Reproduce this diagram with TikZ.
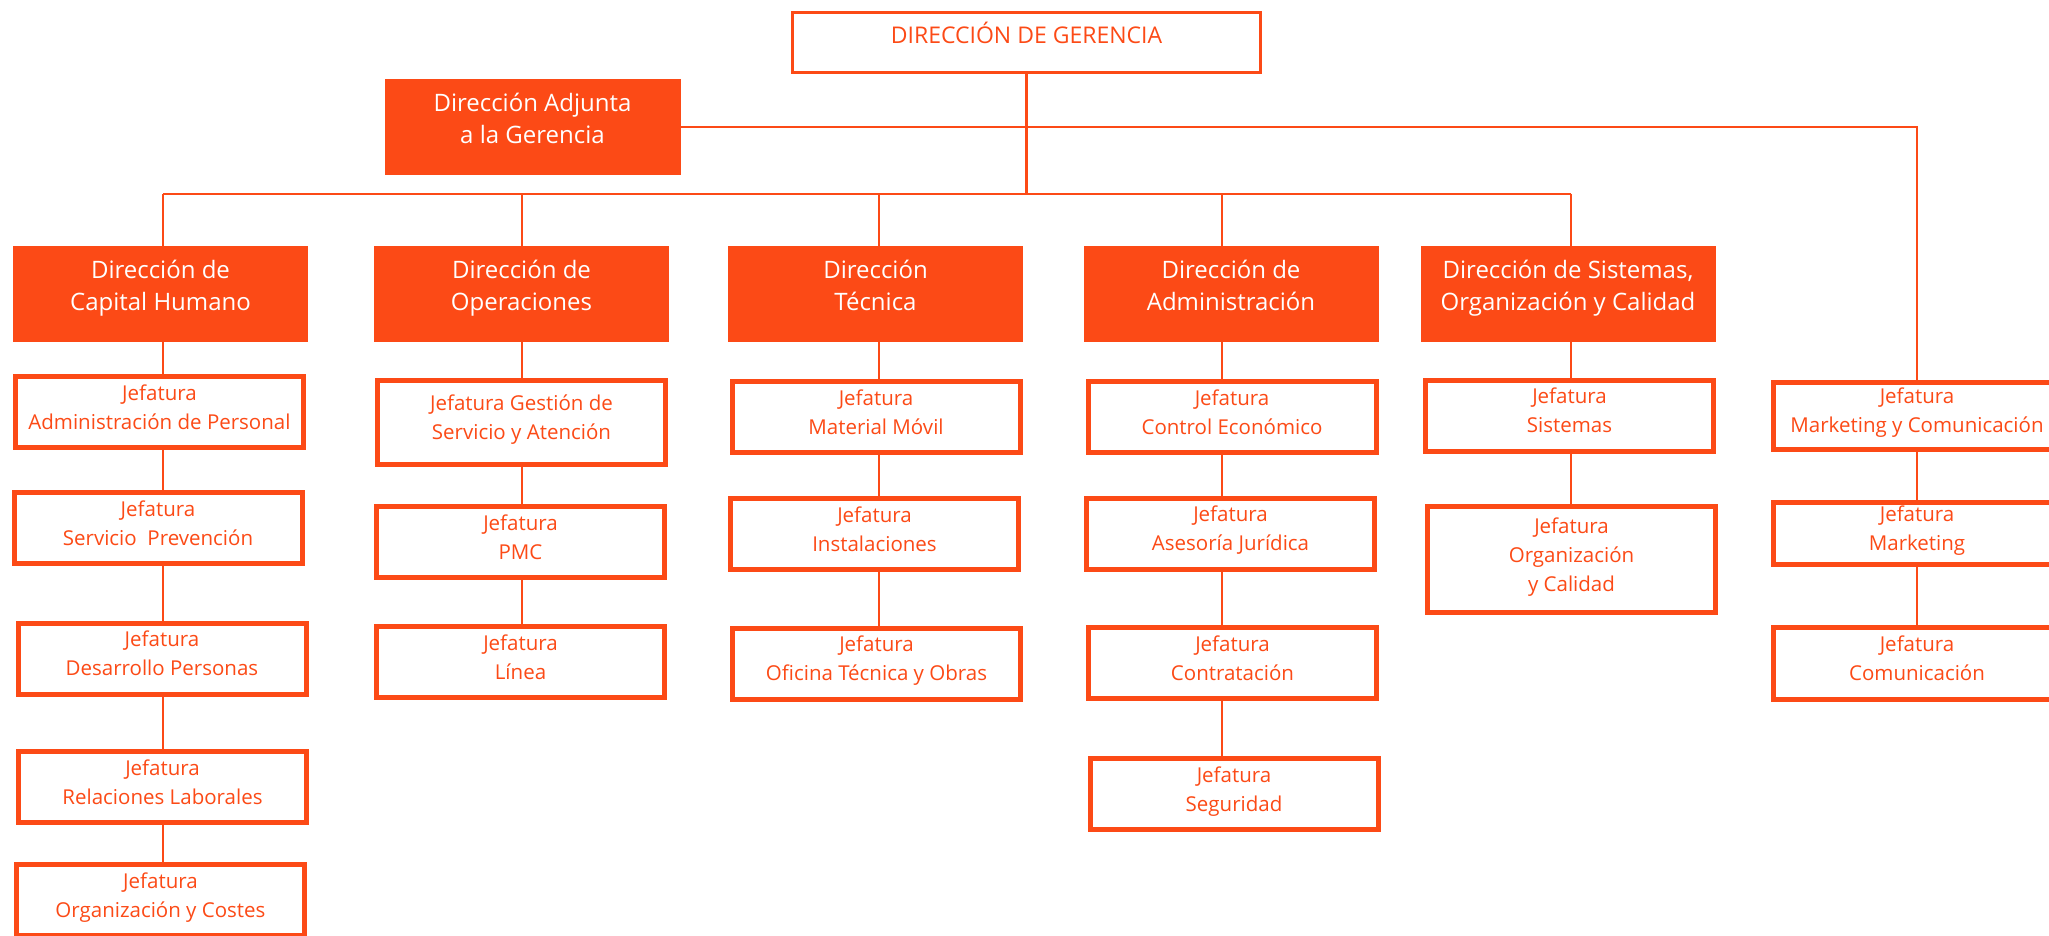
\documentclass[tikz,border=0pt]{standalone}
\usepackage{fontspec}
\setmainfont{Open Sans}
\usetikzlibrary{positioning}
\definecolor{naranja}{RGB}{252,74,22}
\tikzset{
gerbox/.style={
  draw=naranja,
  line width=2.6pt,
  text=naranja,
  minimum width=468pt,
  minimum height=60pt,
  inner sep=0pt,
  font=\fontsize{23}{28}\selectfont,
  text height=19pt,
  text depth=16pt
  },
dirbox/.style={
  fill=naranja,
  text=white,
  minimum width=295pt,
  minimum height=96pt,
  inner sep=0pt,
  align=center,
  font=\fontsize{24}{32}\selectfont,
  text depth=17pt
  },
jefbox/.style={
  draw=naranja,
  line width=5pt,
  fill=white,
  text=naranja,
  minimum width=288pt,
  minimum height=71pt,
  inner sep=0pt,
  align=center,
  font=\fontsize{20.5}{29}\selectfont,
  text depth=10pt
  },
linea/.style={draw=naranja, line width=2.8pt}
}

\begin{document}
\begin{tikzpicture}[x=1pt,y=-1pt]
\path[use as bounding box, clip] (0,0) rectangle (2049,936);

% gerencia
\node[gerbox] (ger) at (1026.5,42.5) {DIRECCIÓN DE GERENCIA};
\node[dirbox, minimum width=296pt] (adj) at (532.5,127) {Dirección Adjunta\\a la Gerencia};

% direcciones
\node[dirbox] (d1) at (160.5,294) {Dirección de\\Capital Humano};
\node[dirbox] (d2) at (521.5,294) {Dirección de\\Operaciones};
\node[dirbox] (d3) at (875.5,294) {Dirección\\Técnica};
\node[dirbox] (d4) at (1231,294) {Dirección de\\Administración};
\node[dirbox] (d5) at (1568,294) {Dirección de Sistemas,\\Organización y Calidad};

% columnas
\coordinate (bus) at (0,194);
\coordinate (c1) at (163,0);
\coordinate (c2) at (522,0);
\coordinate (c3) at (879,0);
\coordinate (c4) at (1222,0);
\coordinate (c5) at (1571,0);

% jefaturas
\node[jefbox] (j11) at (159.5,412) {Jefatura\\Administración de Personal};
\node[jefbox] (j12) at (158,528) {Jefatura\\Servicio~~Prevención};
\node[jefbox] (j13) at (162,658.5) {Jefatura\\Desarrollo Personas};
\node[jefbox] (j14) at (162.5,787) {Jefatura\\Relaciones Laborales};
\node[jefbox] (j15) at (160.5,900) {Jefatura\\Organización y Costes};

\node[jefbox, minimum height=84pt] (j21) at (521.5,422.5) {Jefatura Gestión de\\Servicio y Atención};
\node[jefbox] (j22) at (520.5,542) {Jefatura\\PMC};
\node[jefbox] (j23) at (520.5,662) {Jefatura\\Línea};

\node[jefbox] (j31) at (876,417) {Jefatura\\Material Móvil};
\node[jefbox] (j32) at (874.5,534) {Jefatura\\Instalaciones};
\node[jefbox] (j33) at (876.5,663.5) {Jefatura\\Oficina Técnica y Obras};

\node[jefbox] (j41) at (1232,417) {Jefatura\\Control Económico};
\node[jefbox] (j42) at (1230.5,533.5) {Jefatura\\Asesoría Jurídica};
\node[jefbox] (j43) at (1232.5,663) {Jefatura\\Contratación};
\node[jefbox] (j44) at (1234,794) {Jefatura\\Seguridad};

\node[jefbox] (j51) at (1569.5,415.5) {Jefatura\\Sistemas};
\node[jefbox, minimum height=106pt] (j52) at (1571.5,559.5) {Jefatura\\Organización\\y Calidad};

\node[jefbox, minimum height=67pt] (j61) at (1917,415.5) {Jefatura\\Marketing y Comunicación};
\node[jefbox, minimum height=62pt] (j62) at (1917,533) {Jefatura\\Marketing};
\node[jefbox, minimum height=72pt] (j63) at (1917,663.5) {Jefatura\\Comunicación};

% lineas
\draw[linea] (ger.south) -- (ger.south |- bus);
\draw[linea] (bus -| c1) -- (bus -| c5);
\draw[linea] (adj.east) -| (j61.north);

\foreach \a/\b/\c in {d1/j11/c1, j11/j12/c1, j12/j13/c1, j13/j14/c1, j14/j15/c1,
                      d2/j21/c2, j21/j22/c2, j22/j23/c2,
                      d3/j31/c3, j31/j32/c3, j32/j33/c3,
                      d4/j41/c4, j41/j42/c4, j42/j43/c4, j43/j44/c4,
                      d5/j51/c5, j51/j52/c5,
                      j61/j62/j61, j62/j63/j61}
  \draw[linea] (\a.south -| \c) -- (\b.north -| \c);

\foreach \d/\c in {d1/c1, d2/c2, d3/c3, d4/c4, d5/c5}
  \draw[linea] (bus -| \c) -- (\d.north -| \c);

\end{tikzpicture}
\end{document}
